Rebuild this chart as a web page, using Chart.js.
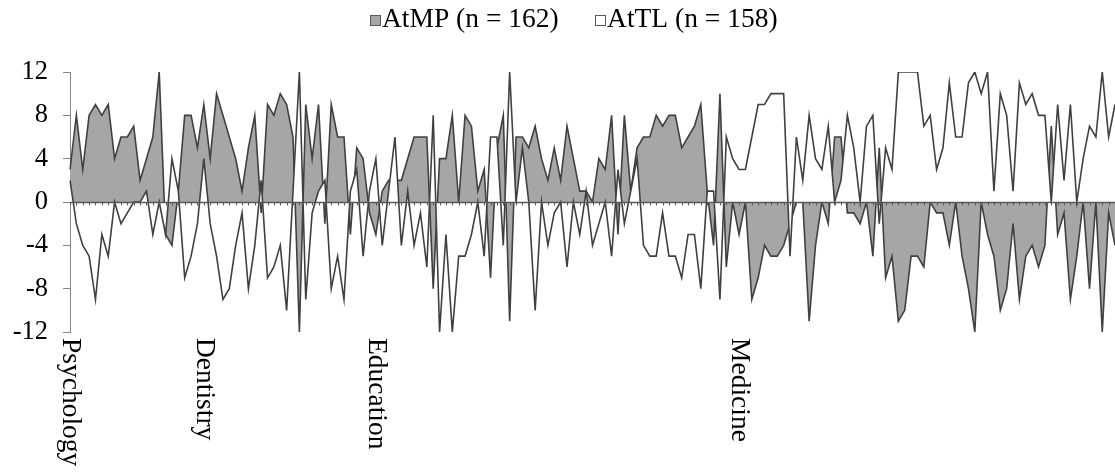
<!DOCTYPE html>
<html>
<head>
<meta charset="utf-8">
<script src="https://cdn.jsdelivr.net/npm/chart.js@4.4.1/dist/chart.umd.min.js"></script>
<style>
  html, body { margin: 0; padding: 0; background: #fff; }
  #wrap { width: 1115px; height: 472px; position: relative; }
</style>
</head>
<body>
<div id="wrap"><canvas id="c"></canvas></div>
<script>
// ---- data ----
const seriesNames = ['AtMP (n = 162)', 'AtTL (n = 158)'];
const groupNames = ['Psychology', 'Dentistry', 'Education', 'Medicine'];
const groupStart = [0, 21, 48, 105];
const yTicks = [-12, -8, -4, 0, 4, 8, 12];

const atmp = [
  3, 8, 3, 8, 9, 8, 9, 4, 6, 6, 7, 2, 4, 6, 12, -3, -4, 1, 8, 8, 5,
  9, 4, 10, 8, 6, 4, 1, 5, 8, -1, 9, 8, 10, 9, 6, -12, 9, 4, 9, -2, 9,
  6, 6, -3, 5, 4, -1, -3, 1, 2, 2, 2, 4, 6, 6, 6, -8, 4, 4, 8, 0, 8,
  7, 1, 3, -7, 5, 8, -11, 6, 6, 5, 7, 4, 2, 5, 2, 7, 4, 1, 1, 0, 4,
  3, 8, -3, 8, 1, 5, 6, 6, 8, 7, 8, 8, 5, 6, 7, 9, 1, -4, 10, -6, 0,
  -3, 0, -9, -7, -4, -5, -5, -4, -2, 0, 0, -11, -4, 0, -2, 6, 6, -1, -1, -2, 0,
  -5, 5, -7, -5, -11, -10, -5, -5, -6, 0, -1, -1, -4, 0, -5, -8, -12, 0, -3, -5, -10,
  -8, -2, -9, -5, -4, -6, -4, 7, -3, -1, -9, -5, 0, -8, 0, -12, -1, -4
];
const attl = [
  2, -2, -4, -5, -9, -3, -5, 0, -2, -1, 0, 0, 1, -3, 0, -3, 4, 1, -7, -5, -2,
  4, -2, -5, -9, -8, -4, -1, -8, -4, 2, -7, -6, -4, -10, 1, 12, -9, -1, 1, 2, -8,
  -5, -9, 1, 3, -5, 1, 4, -4, 1, 6, -4, 1, -4, -1, -6, 8, -12, -3, -12, -5, -5,
  -3, 0, -5, 6, 6, -4, 12, 0, 5, 0, -10, 0, -4, -1, 0, -6, 0, -3, 1, -4, -2,
  0, -5, 3, -2, 1, 4, -4, -5, -5, -1, -5, -5, -7, -3, -3, -8, 1, 1, -9, 6, 4,
  3, 3, 6, 9, 9, 10, 10, 10, -5, 6, 2, 8, 4, 3, 7, 0, 2, 8, 5, 0, 7,
  8, -2, 5, 3, 12, 12, 12, 12, 7, 8, 3, 5, 11, 6, 6, 11, 12, 10, 12, 1, 10,
  8, 1, 11, 9, 10, 8, 8, 0, 9, 2, 9, 0, 4, 7, 6, 12, 6, 9
];

// category labels: only group starts carry a name
const xLabels = atmp.map(() => '');
groupNames.forEach((n, i) => { xLabels[groupStart[i]] = n; });

const FONT = '"Liberation Serif", "Times New Roman", serif';
const FSIZE = 27.5;      // legend + category labels
const TICK_SIZE = 26.5;  // y tick labels
const LEG_PAD = 34.6;
const TEXT1_X = 382;     // where the first legend text starts
const SERIES_FILL = ['#a6a6a6', '#ffffff'];
const LINE_COL = '#404040';

const legendLayout = {
  id: 'legendLayout',
  afterInit(chart) {
    const lg = chart.legend;
    if (lg) {
      const origFit = lg.fit;
      lg.fit = function () { origFit.call(this); this.height = 72; };
    }
  },
  afterLayout(chart) {
    const lg = chart.legend;
    if (!lg) return;
    const newTop = 20 - LEG_PAD - FSIZE / 2;
    lg.top = newTop; lg.bottom = newTop + lg.height;
    const lw = (lg.lineWidths && lg.lineWidths[0]) || 0;
    const curX = (lg.left + LEG_PAD + lg.right - lw) / 2;
    const shift = (TEXT1_X - FSIZE / 2) - curX;
    lg.left += shift; lg.right += shift;
  },
  afterDraw(chart) {
    // small square markers right before each legend text
    const ctx = chart.ctx;
    ctx.save();
    ctx.font = FSIZE + 'px ' + FONT;
    const w1 = ctx.measureText(seriesNames[0]).width;
    const textX = [TEXT1_X, TEXT1_X + w1 + LEG_PAD + FSIZE / 2];
    ctx.lineWidth = 1;
    ctx.strokeStyle = '#595959';
    textX.forEach((tx, i) => {
      const bx = Math.round(tx - 12) + 0.5;
      ctx.fillStyle = SERIES_FILL[i];
      ctx.fillRect(bx, 15.5, 10, 10);
      ctx.strokeRect(bx, 15.5, 10, 10);
    });
    ctx.restore();
  }
};

const axisDecor = {
  id: 'axisDecor',
  afterDatasetsDraw(chart) {
    const { ctx, chartArea: a, scales: { x, y } } = chart;
    const y0 = Math.round(y.getPixelForValue(0)) + 0.5;
    ctx.save();
    ctx.strokeStyle = '#595959';
    ctx.lineWidth = 1.5;
    ctx.beginPath();
    ctx.moveTo(a.left, y0);
    ctx.lineTo(a.right, y0);
    ctx.stroke();
    ctx.lineWidth = 1;
    ctx.beginPath();
    for (let i = 0; i < xLabels.length; i++) {
      const px = Math.round(x.getPixelForValue(i)) + 0.5;
      ctx.moveTo(px, y0);
      ctx.lineTo(px, y0 + 3);
    }
    ctx.stroke();
    ctx.restore();
  },
  afterDraw(chart) {
    const { ctx, chartArea: a, scales: { x } } = chart;
    ctx.save();
    ctx.font = FSIZE + 'px ' + FONT;
    ctx.fillStyle = '#000';
    ctx.textAlign = 'left';
    ctx.textBaseline = 'middle';
    xLabels.forEach((lab, i) => {
      if (!lab) return;
      ctx.save();
      ctx.translate(x.getPixelForValue(i), a.bottom + 6);
      ctx.rotate(Math.PI / 2);
      ctx.fillText(lab, 0, 0);
      ctx.restore();
    });
    ctx.restore();
  }
};

new Chart(document.getElementById('c'), {
  type: 'line',
  data: {
    labels: xLabels,
    datasets: [
      {
        label: seriesNames[0], data: atmp, order: 1,
        backgroundColor: SERIES_FILL[0], borderColor: LINE_COL, borderWidth: 1.6,
        fill: 'origin', pointRadius: 0, tension: 0
      },
      {
        label: seriesNames[1], data: attl, order: 0,
        backgroundColor: SERIES_FILL[1], borderColor: LINE_COL, borderWidth: 1.6,
        fill: 'origin', pointRadius: 0, tension: 0
      }
    ]
  },
  options: {
    responsive: true,
    maintainAspectRatio: false,
    animation: false,
    events: [],
    layout: { padding: 0 },
    plugins: {
      tooltip: { enabled: false },
      legend: {
        position: 'top',
        labels: {
          color: '#000',
          font: { family: FONT, size: FSIZE },
          boxWidth: 0, boxHeight: 0, padding: LEG_PAD,
          sort: (a, b) => a.datasetIndex - b.datasetIndex,
          generateLabels: chart => {
            const items = Chart.defaults.plugins.legend.labels.generateLabels(chart);
            items.forEach(it => {
              it.fillStyle = 'rgba(0,0,0,0)';
              it.strokeStyle = 'rgba(0,0,0,0)';
              it.lineWidth = 0;
            });
            return items;
          }
        }
      }
    },
    scales: {
      x: {
        type: 'category',
        offset: false,
        ticks: { display: false },
        grid: { display: false },
        border: { display: false },
        afterFit: s => { s.height = 140; }
      },
      y: {
        min: -12, max: 12,
        afterBuildTicks: s => { s.ticks = yTicks.map(v => ({ value: v })); },
        ticks: { color: '#000', font: { family: FONT, size: TICK_SIZE }, padding: 15 },
        grid: { drawOnChartArea: false, drawTicks: true, tickLength: 7, tickColor: '#868686' },
        border: { display: true, color: '#868686', width: 1 },
        afterFit: s => { s.width = 70; }
      }
    }
  },
  plugins: [legendLayout, axisDecor]
});
</script>
</body>
</html>
